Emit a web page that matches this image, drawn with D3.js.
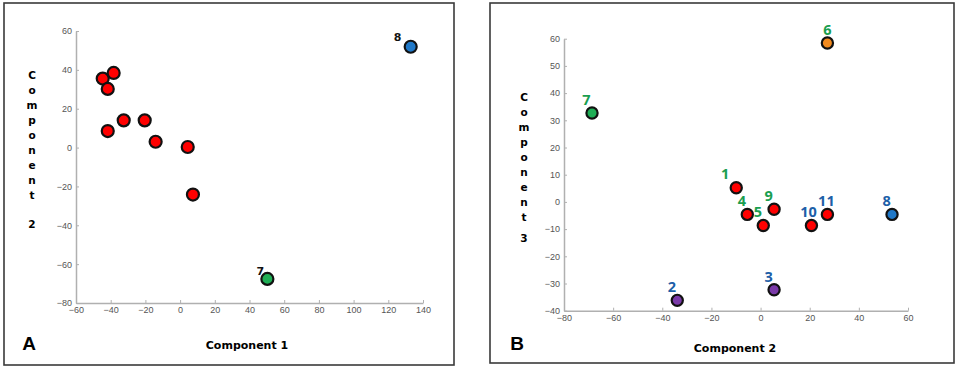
<!DOCTYPE html>
<html>
<head>
<meta charset="utf-8">
<script src="https://cdn.jsdelivr.net/npm/d3@7"></script>
<style>
  body { margin: 0; background: #fff; }
  svg { display: block; }
  .tick text { fill: #555; font-family: "Liberation Sans", Arial, sans-serif; font-size: 9px; }
</style>
</head>
<body>
<svg id="chart" width="957" height="369"></svg>
<script>
// panel A : component 1 vs component 2
const aX = [-44.6, -38.3, -41.7, -41.7, -32.5, -20.4, -14.1, 4.4, 7.4, 50.3, 132.9];
const aY = [35.5, 38.4, 30.2, 8.5, 14, 14, 3, 0.3, -24.2, -67.6, 51.9];
const aGroup = ["red", "red", "red", "red", "red", "red", "red", "red", "red", "green", "blue"];
const aLabels = ["", "", "", "", "", "", "", "", "", "7", "8"];
const aXTicks = [-60, -40, -20, 0, 20, 40, 60, 80, 100, 120, 140];
const aYTicks = [-80, -60, -40, -20, 0, 20, 40, 60];

// panel B : component 2 vs component 3
const bX = [-9.9, -33.9, 5.5, -5.4, 1.1, 27.2, -68.6, 53.5, 5.5, 20.7, 27.2];
const bY = [5.2, -36.2, -32.3, -4.6, -8.7, 58.4, 32.7, -4.6, -2.7, -8.7, -4.6];
const bGroup = ["red", "purple", "purple", "red", "red", "orange", "green", "blue", "red", "red", "red"];
const bLabels = ["1", "2", "3", "4", "5", "6", "7", "8", "9", "10", "11"];
const bLabelColor = ["g", "b", "b", "g", "g", "g", "g", "b", "g", "b", "b"];
const bXTicks = [-80, -60, -40, -20, 0, 20, 40, 60];
const bYTicks = [-40, -30, -20, -10, 0, 10, 20, 30, 40, 50, 60];

const fillColor = { red: "#ff0000", green: "#1fae55", blue: "#1f78c8", orange: "#f28a1e", purple: "#7a3aa8" };
const textColor = { g: "#1a9e50", b: "#1d5fa8" };

const svg = d3.select("#chart");

function drawPanel(p) {
  const g = svg.append("g");

  g.append("rect")
    .attr("x", p.frame[0]).attr("y", p.frame[1])
    .attr("width", p.frame[2]).attr("height", p.frame[3])
    .attr("fill", "white").attr("stroke", "#3a3a3a").attr("stroke-width", 1.6);

  const x = d3.scaleLinear().domain([p.xTicks[0], p.xTicks[p.xTicks.length - 1]]).range([p.left, p.right]);
  const y = d3.scaleLinear().domain([p.yTicks[0], p.yTicks[p.yTicks.length - 1]]).range([p.bottom, p.top]);

  const xAxis = g.append("g")
    .attr("transform", `translate(0,${p.bottom})`)
    .call(d3.axisBottom(x).tickValues(p.xTicks).tickSizeInner(-3).tickSizeOuter(0).tickPadding(4));
  const yAxis = g.append("g")
    .attr("transform", `translate(${p.left},0)`)
    .call(d3.axisLeft(y).tickValues(p.yTicks).tickSizeInner(-3).tickSizeOuter(0).tickPadding(4));
  [xAxis, yAxis].forEach(ax => {
    ax.select(".domain").attr("stroke", "#b0b0b0").attr("stroke-width", 1.5);
    ax.selectAll(".tick line").attr("stroke", "#b0b0b0");
  });

  const pts = p.xs.map((v, i) => ({ x: v, y: p.ys[i], i }));

  g.append("g")
    .selectAll("circle")
    .data(pts)
    .join("circle")
    .attr("cx", d => x(d.x))
    .attr("cy", d => y(d.y))
    .attr("r", p.r)
    .attr("fill", d => fillColor[p.groups[d.i]])
    .attr("stroke", "#111")
    .attr("stroke-width", 2.2);

  g.append("g")
    .selectAll("text")
    .data(pts.filter(d => p.labels[d.i] !== ""))
    .join("text")
    .attr("x", d => x(d.x) + p.labelShift(p.labels[d.i])[0])
    .attr("y", d => y(d.y) + p.labelShift(p.labels[d.i])[1])
    .attr("text-anchor", "middle")
    .attr("dominant-baseline", "central")
    .attr("font-family", p.labelFont)
    .attr("font-weight", p.labelWeight)
    .attr("font-size", p.labelSize)
    .attr("fill", d => p.labelColor(d.i))
    .text(d => p.labels[d.i]);

  // x axis title
  g.append("text")
    .attr("x", p.xTitlePos[0]).attr("y", p.xTitlePos[1])
    .attr("text-anchor", "middle").attr("dominant-baseline", "central")
    .attr("font-family", "DejaVu Sans, sans-serif").attr("font-weight", "bold").attr("font-size", 11)
    .text(p.xTitle);

  // stacked y axis title
  const letters = "Component".split("");
  g.append("g")
    .selectAll("text")
    .data(letters.concat([p.yNum]))
    .join("text")
    .attr("x", p.yTitleX)
    .attr("y", (d, i) => i < letters.length ? p.yTitleTop + i * p.yStep : p.yNumY)
    .attr("text-anchor", "middle").attr("dominant-baseline", "central")
    .attr("font-family", "DejaVu Sans, sans-serif").attr("font-weight", "bold").attr("font-size", 10.5)
    .text(d => d);

  // panel letter
  g.append("text")
    .attr("x", p.letterPos[0]).attr("y", p.letterPos[1])
    .attr("text-anchor", "middle").attr("dominant-baseline", "central")
    .attr("font-family", "Liberation Sans, Arial, sans-serif").attr("font-weight", "bold").attr("font-size", 19)
    .text(p.letter);
}

const shiftB = { "1": [-11, -14], "6": [0, -14], "10": [-3, -14], "11": [-1, -13.5] };

drawPanel({
  frame: [4, 3, 450, 362],
  left: 76, right: 423, top: 31, bottom: 303,
  xTicks: aXTicks, yTicks: aYTicks,
  xs: aX, ys: aY, groups: aGroup, labels: aLabels, r: 6,
  labelShift: l => (l === "8" ? [-13, -9] : [-7, -7]),
  labelFont: "DejaVu Sans, sans-serif", labelWeight: "bold", labelSize: 11,
  labelColor: () => "#111",
  xTitle: "Component 1", xTitlePos: [247, 345],
  yTitleX: 32, yTitleTop: 75, yStep: 15, yNum: "2", yNumY: 224,
  letter: "A", letterPos: [29, 343]
});

drawPanel({
  frame: [490, 3, 464, 360],
  left: 564, right: 908, top: 38.7, bottom: 310.7,
  xTicks: bXTicks, yTicks: bYTicks,
  xs: bX, ys: bY, groups: bGroup, labels: bLabels, r: 5.6,
  labelShift: l => shiftB[l] || [-5.5, -13.7],
  labelFont: "Open Sans, sans-serif", labelWeight: 700, labelSize: 14.5,
  labelColor: i => textColor[bLabelColor[i]],
  xTitle: "Component 2", xTitlePos: [735, 348],
  yTitleX: 524, yTitleTop: 97.3, yStep: 14.9, yNum: "3", yNumY: 238,
  letter: "B", letterPos: [517, 343]
});
</script>
</body>
</html>
